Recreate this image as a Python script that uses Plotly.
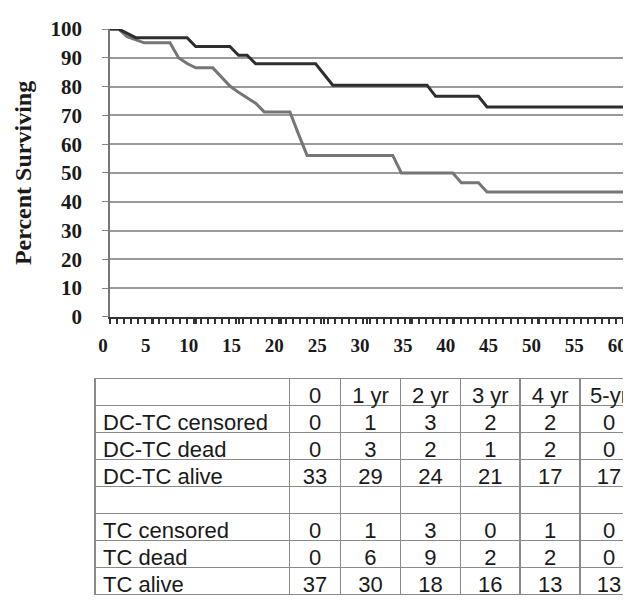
import plotly.graph_objects as go

# ---- Kaplan-Meier curves (vertices; months vs percent surviving)
months_dctc = [0, 1, 3, 9, 10, 14, 15, 16, 17, 24, 25, 26, 37, 38, 43, 44, 61.5]
surv_dctc = [100, 100, 97.0, 97.0, 93.9, 93.9, 90.9, 90.9, 87.9, 87.9, 84.2, 80.5,
             80.5, 76.6, 76.6, 72.9, 72.9]

months_tc = [0, 1, 2, 4, 7, 8, 9, 10, 12, 13, 14, 15, 16, 17, 18, 21, 22, 23,
             33, 34, 40, 41, 43, 44, 61.5]
surv_tc = [100, 100, 97.3, 95.2, 95.2, 90.0, 88.0, 86.5, 86.5, 83.5, 80.2, 78.0,
           76.0, 74.2, 71.2, 71.2, 63.5, 56.1, 56.1, 50.0, 50.0, 46.6, 46.6, 43.4, 43.4]

y_ticks = [0, 10, 20, 30, 40, 50, 60, 70, 80, 90, 100]
x_ticks = [0, 5, 10, 15, 20, 25, 30, 35, 40, 45, 50, 55, 60]

# ---- Table of numbers at risk
col_headers = ["", "0", "1 yr", "2 yr", "3 yr", "4 yr", "5-yr"]
row_labels = ["DC-TC censored", "DC-TC dead", "DC-TC alive", "",
              "TC censored", "TC dead", "TC alive"]
col_0 = ["0", "0", "33", "", "0", "0", "37"]
col_1yr = ["1", "3", "29", "", "1", "6", "30"]
col_2yr = ["3", "2", "24", "", "3", "9", "18"]
col_3yr = ["2", "1", "21", "", "0", "2", "16"]
col_4yr = ["2", "2", "17", "", "1", "2", "13"]
col_5yr = ["0", "0", "17", "", "0", "0", "13"]


def nowrap(items):
    # non-breaking spaces keep the table from wrapping labels onto two lines
    return [s.replace(" ", "\u00a0") for s in items]


W, H = 631, 600
ML, MT = 87, 21
PW, PH = W - ML, H - MT

fig = go.Figure()
fig.add_trace(go.Scatter(x=months_tc, y=surv_tc, mode="lines",
                         line=dict(color="#767676", width=3), hoverinfo="skip"))
fig.add_trace(go.Scatter(x=months_dctc, y=surv_dctc, mode="lines",
                         line=dict(color="#2e2e2e", width=3), hoverinfo="skip"))

tfont = dict(family="Liberation Sans, Arial, sans-serif", size=22, color="#1a1a1a")
fig.add_trace(go.Table(
    domain=dict(x=[0, 1], y=[0, (H - 378) / PH]),
    columnwidth=[195, 51, 60, 60, 60, 60, 58],
    header=dict(values=nowrap(col_headers), align=["left"] + ["center"] * 6,
                font=tfont, height=27, fill_color="white",
                line=dict(color="#8a8a8a", width=1.5)),
    cells=dict(values=[nowrap(row_labels), col_0, col_1yr, col_2yr, col_3yr,
                       col_4yr, col_5yr],
               align=["left"] + ["center"] * 6, font=tfont, height=27,
               fill_color="white", line=dict(color="#8a8a8a", width=1.5)),
))

serif = "Liberation Serif, Times New Roman, serif"
fig.update_layout(
    width=W, height=H,
    margin=dict(l=ML, r=0, t=MT, b=0),
    showlegend=False,
    paper_bgcolor="white", plot_bgcolor="white",
    xaxis=dict(domain=[(102 - ML) / PW, (630 - ML) / PW], range=[0, 61.5],
               tickmode="array", tickvals=x_ticks, ticks="outside", ticklen=5,
               tickcolor="#333", tickwidth=1.5, showline=True, linecolor="#333",
               linewidth=2, showgrid=False, zeroline=False, ticklabelshift=-7,
               ticklabelstandoff=5,
               tickfont=dict(family=serif, size=19, color="#1a1a1a", weight="bold"),
               anchor="y",
               minor=dict(dtick=0.82, tick0=0, ticks="outside", ticklen=5,
                          tickcolor="#333", tickwidth=1.5, showgrid=False)),
    yaxis=dict(domain=[(H - 315) / PH, 1], range=[0, 100], tickmode="array",
               tickvals=y_ticks, ticks="outside", ticklen=6, tickcolor="#888",
               ticklabelstandoff=16,
               showline=True, linecolor="#777", linewidth=1.5, mirror=True,
               showgrid=True, gridcolor="#9a9a9a", gridwidth=1.5, zeroline=False,
               tickfont=dict(family=serif, size=21, color="#1a1a1a", weight="bold"),
               title=dict(text="Percent Surviving", standoff=12,
                          font=dict(family=serif, size=24, color="#1a1a1a",
                                    weight="bold"))),
)

fig.write_html("out.html")
